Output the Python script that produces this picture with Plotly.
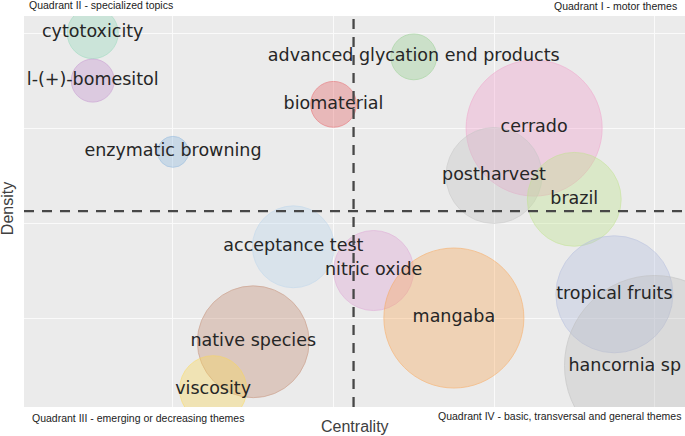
import plotly.graph_objects as go

# ---- data ----
themes = ["cytotoxicity", "l-(+)-bomesitol", "advanced glycation end products", "biomaterial",
          "enzymatic browning", "cerrado", "postharvest", "brazil", "acceptance test",
          "nitric oxide", "mangaba", "tropical fruits", "hancornia sp", "native species", "viscosity"]
centrality_rank = [2, 2, 10, 8, 4, 13, 12, 14, 7, 9, 11, 15, 16, 6, 5]
density_rank = [16, 14, 15, 13, 11, 12, 10, 9, 7, 6, 4, 5, 2, 3, 1]
frequency = [26, 18.5, 21, 21, 9.6, 185, 92, 88, 67, 64, 196, 137, 324, 125, 45]
label_centrality = [2, 2, 10, 8, 4, 13, 12, 14, 7, 9, 11, 15, 15.26, 6, 5]
label_density = [16, 14, 15, 13, 11, 12, 10, 9, 7, 6, 4, 5, 1.94, 3, 1]
colors_rgb = [(150, 218, 188), (196, 148, 207), (150, 207, 144), (231, 98, 102),
              (142, 184, 222), (241, 160, 203), (198, 198, 198), (192, 228, 142),
              (188, 214, 236), (223, 165, 212), (249, 168, 90), (180, 190, 223),
              (190, 190, 190), (196, 141, 116), (251, 216, 88)]

mean_c = sum(range(1, 17)) / 16.0
mean_d = sum(range(1, 17)) / 16.0

fill = ["rgba(%d,%d,%d,0.52)" % c for c in colors_rgb]
edge = ["rgba(%d,%d,%d,0.8)" % c for c in colors_rgb]

fig = go.Figure()
fig.add_trace(go.Scatter(
    x=centrality_rank, y=density_rank, mode="markers",
    marker=dict(size=frequency, sizemode="area", sizeref=0.02, color=fill,
                line=dict(color=edge, width=1)),
    hoverinfo="text", text=themes, showlegend=False))
fig.add_trace(go.Scatter(
    x=label_centrality, y=label_density, mode="text", text=themes,
    textposition="middle center",
    textfont=dict(family="DejaVu Sans", size=17.5, color="#262626"),
    hoverinfo="skip", showlegend=False, cliponaxis=False))

dash_style = dict(color="#474747", width=2.3, dash="10px,8px")
fig.add_shape(type="line", xref="x", yref="paper", x0=mean_c, x1=mean_c, y0=0, y1=1,
              line=dash_style, layer="above")
fig.add_shape(type="line", xref="paper", yref="y", x0=0, x1=1, y0=mean_d, y1=mean_d,
              line=dash_style, layer="above")

qfont = dict(family="Liberation Sans", size=10.5, color="#222222")
annots = [
    dict(text="Quadrant II - specialized topics", x=0.0045, y=1.028, xanchor="left", yanchor="middle"),
    dict(text="Quadrant I - motor themes", x=0.991, y=1.026, xanchor="right", yanchor="middle"),
    dict(text="Quadrant III - emerging or decreasing themes", x=0.009, y=-0.028, xanchor="left", yanchor="middle"),
    dict(text="Quadrant IV - basic, transversal and general themes", x=0.997, y=-0.023, xanchor="right", yanchor="middle"),
]
for a in annots:
    fig.add_annotation(xref="paper", yref="paper", showarrow=False, font=qfont, **a)
tfont = dict(family="Liberation Sans", size=16, color="#404040")
fig.add_annotation(text="Centrality", xref="paper", yref="paper", x=0.5, y=-0.051,
                   xanchor="center", yanchor="middle", showarrow=False, font=tfont)
fig.add_annotation(text="Density", xref="paper", yref="paper", x=-0.0257, y=0.506,
                   xanchor="center", yanchor="middle", textangle=-90, showarrow=False, font=tfont)

fig.update_xaxes(range=[0.287, 16.76], tick0=0, dtick=4, showticklabels=False,
                 showgrid=True, gridcolor="#FAFAFA", gridwidth=1, zeroline=False,
                 showline=False, ticks="")
fig.update_yaxes(range=[0.253, 16.72], tick0=0, dtick=4, showticklabels=False,
                 showgrid=True, gridcolor="#FAFAFA", gridwidth=1, zeroline=False,
                 showline=False, ticks="")
fig.update_layout(width=685, height=436, margin=dict(l=24, r=0, t=16, b=29),
                  plot_bgcolor="#EBEBEB", paper_bgcolor="white", showlegend=False)
fig.write_html("out.html", config={"displayModeBar": False},
               post_script="document.body.style.margin='0';document.body.style.overflow='hidden';")
